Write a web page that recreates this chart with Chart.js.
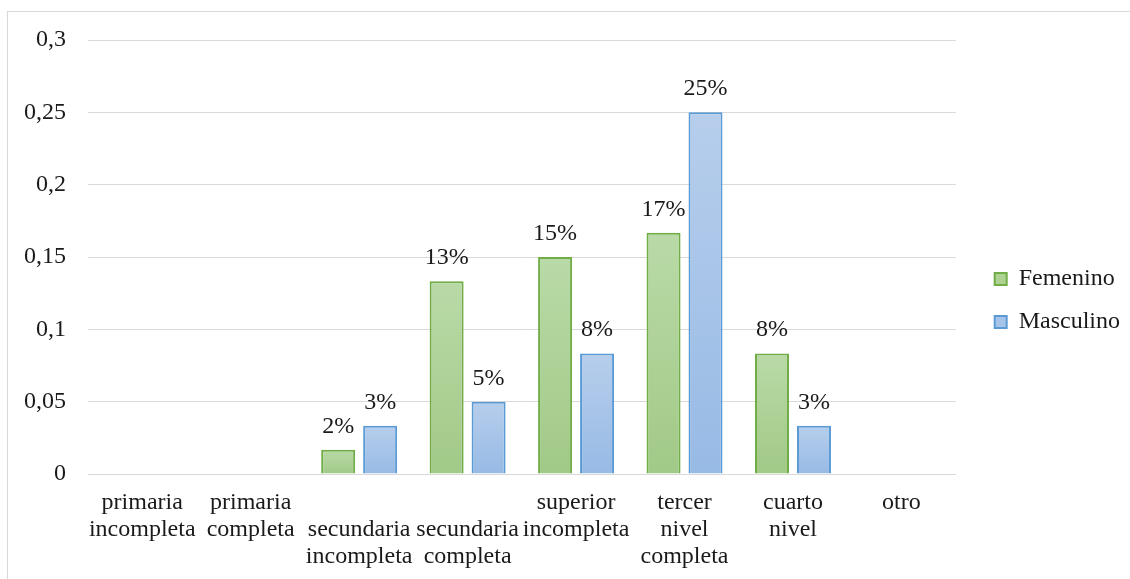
<!DOCTYPE html>
<html>
<head>
<meta charset="utf-8">
<script src="https://cdn.jsdelivr.net/npm/chart.js@4/dist/chart.umd.min.js"></script>
<style>
  html, body { margin: 0; padding: 0; background: #fff; overflow: hidden; }
  #frame { position: absolute; left: 7px; top: 11px; width: 1140px; height: 600px; border: 1px solid #d9d9d9; }
  #levelChart { display: block; }
</style>
</head>
<body>
<div id="frame">
  <canvas id="levelChart" width="1122" height="575"></canvas>
</div>
<script>
// categorías (el '' empuja el texto una línea abajo, como en el original)
const categories = [
  ['primaria', 'incompleta'],
  ['primaria', 'completa'],
  ['', 'secundaria', 'incompleta'],
  ['', 'secundaria', 'completa'],
  ['superior', 'incompleta'],
  ['tercer', 'nivel', 'completa'],
  ['cuarto', 'nivel'],
  ['otro']
];
const femenino = [0, 0, 0.0167, 0.1333, 0.15, 0.1667, 0.0833, 0];
const masculino = [0, 0, 0.0333, 0.05, 0.0833, 0.25, 0.0333, 0];
const yTicks = [0, 0.05, 0.1, 0.15, 0.2, 0.25, 0.3];

const FONT = "'Liberation Serif', 'Times New Roman', serif";
const FS = 24;

// degradado por barra (de claro arriba a más oscuro abajo); 'flat' para la leyenda
function barGradient(top, bottom, flat) {
  return function (ctx) {
    const chart = ctx.chart;
    const y = chart.scales.y;
    if (!chart.chartArea || !y || ctx.parsed == null) return flat;
    const yTop = y.getPixelForValue(ctx.parsed.y);
    const yBase = y.getPixelForValue(0);
    if (!(yBase > yTop)) return flat;
    const g = chart.ctx.createLinearGradient(0, yTop, 0, yBase);
    g.addColorStop(0, top);
    g.addColorStop(1, bottom);
    return g;
  };
}

// etiquetas de porcentaje encima de cada barra
const valueLabels = {
  id: 'valueLabels',
  afterDatasetsDraw(chart) {
    const ctx = chart.ctx;
    ctx.save();
    ctx.font = FS + 'px ' + FONT;
    ctx.fillStyle = '#1a1a1a';
    ctx.textAlign = 'center';
    ctx.textBaseline = 'alphabetic';
    chart.data.datasets.forEach((ds, i) => {
      chart.getDatasetMeta(i).data.forEach((bar, j) => {
        const v = ds.data[j];
        if (!v) return;
        ctx.fillText(Math.round(v * 100) + '%', bar.x, bar.y - 17);
      });
    });
    ctx.restore();
  }
};

const config = {
  type: 'bar',
  data: {
    labels: categories,
    datasets: [
      {
        label: 'Femenino',
        data: femenino,
        backgroundColor: barGradient('#b9daa7', '#a1c987', '#add292'),
        borderColor: '#70ad47',
        borderWidth: 2,
        categoryPercentage: 0.774,
        barPercentage: 0.81
      },
      {
        label: 'Masculino',
        data: masculino,
        backgroundColor: barGradient('#b7ceec', '#97bae5', '#a6c4e9'),
        borderColor: '#5b9bd5',
        borderWidth: 2,
        categoryPercentage: 0.774,
        barPercentage: 0.81
      }
    ]
  },
  options: {
    responsive: false,
    animation: false,
    layout: { padding: { top: 28, right: 0, bottom: 0, left: 0 } },
    scales: {
      x: {
        grid: { display: false, drawTicks: false },
        border: { display: true, color: '#d9d9d9', width: 1 },
        ticks: {
          padding: 15,
          color: '#1a1a1a',
          maxRotation: 0,
          autoSkip: false,
          font: { family: FONT, size: FS, lineHeight: 1.125 }
        },
        afterFit(scale) { scale.height = 113; }
      },
      y: {
        min: 0,
        max: 0.3,
        afterBuildTicks(scale) { scale.ticks = yTicks.map(v => ({ value: v })); },
        grid: { color: '#d9d9d9', lineWidth: 1, drawTicks: false },
        border: { display: false },
        ticks: {
          padding: 22,
          color: '#1a1a1a',
          font: { family: FONT, size: FS },
          callback: v => String(Number(v.toFixed(2))).replace('.', ',')
        },
        afterFit(scale) {
          scale.width = 80;
          scale.paddingTop = 0;
          scale.paddingBottom = 0;
        }
      },
      // eje vacío: solo deja un hueco entre el área del gráfico y la leyenda
      gap: {
        type: 'linear',
        position: 'right',
        grid: { display: false, drawTicks: false },
        border: { display: false },
        ticks: { display: false },
        afterFit(scale) { scale.width = 20; }
      }
    },
    plugins: {
      legend: {
        position: 'right',
        align: 'start',
        title: { display: true, text: '', padding: { top: 181, bottom: 0 }, font: { family: FONT, size: FS, lineHeight: 1.125 } },
        labels: {
          boxWidth: 12,
          boxHeight: 12,
          padding: 19,
          color: '#1a1a1a',
          font: { family: FONT, size: FS }
        }
      },
      tooltip: { enabled: false },
      title: { display: false }
    }
  },
  plugins: [valueLabels]
};

new Chart(document.getElementById('levelChart'), config);
</script>
</body>
</html>
